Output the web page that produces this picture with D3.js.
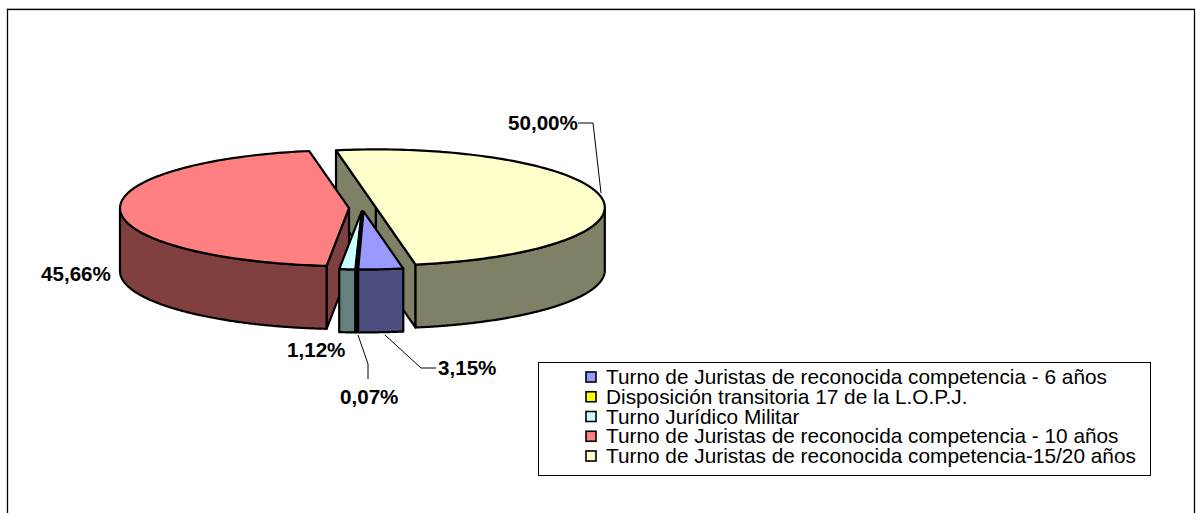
<!DOCTYPE html>
<html><head><meta charset="utf-8"><script src="https://cdn.jsdelivr.net/npm/d3@7"></script>
<style>html,body{margin:0;padding:0;background:#fff}svg{display:block}text{font-family:"Liberation Sans",Arial,sans-serif;fill:#000}</style>
</head><body><svg id="c" width="1196" height="513"></svg>
<script>
const categories = ["Turno de Juristas de reconocida competencia - 6 años","Disposición transitoria 17 de la L.O.P.J.","Turno Jurídico Militar","Turno de Juristas de reconocida competencia - 10 años","Turno de Juristas de reconocida competencia-15/20 años"];
const values = [3.15,0.07,1.12,45.66,50.00];
const valueLabels = ["3,15%","0,07%","1,12%","45,66%","50,00%"];
const topColors = ["#9999ff","#ffff00","#ccffff","#ff8080","#ffffcc"];
const sideColors = ["#4d4d80","#808000","#668080","#804040","#808066"];

const svg = d3.select("#c");
const rx=229, ry=58, depth=63, cx=362.5, cy=208, explode=13.5;
const start=170*Math.PI/180;
const arcs=d3.pie().sort(null).value(d=>d).startAngle(start).endAngle(start+2*Math.PI)(values);
const pt=(a,o)=>[o[0]+rx*Math.sin(a),o[1]-ry*Math.cos(a)];
const line=d3.line();
const slices=arcs.map((s,i)=>{const m=(s.startAngle+s.endAngle)/2;
  return {i,a0:s.startAngle,a1:s.endAngle,o:[cx+explode*Math.sin(m),cy-explode*(ry/rx)*Math.cos(m)]};});
const rim=s=>{const n=Math.max(2,Math.ceil((s.a1-s.a0)/0.02));return d3.range(n+1).map(k=>pt(s.a0+(s.a1-s.a0)*k/n,s.o));};
const down=p=>[p[0],p[1]+depth];
svg.append("line").attr("x1",6).attr("x2",1195).attr("y1",8.5).attr("y2",8.5).attr("stroke","#c8c8c8");
svg.append("rect").attr("x",7.5).attr("y",9.5).attr("width",1187).attr("height",520).attr("fill","#fff").attr("stroke","#000").attr("stroke-width",1.3);

function drawSlice(s){
  const g=svg.append("g").attr("stroke","#000").attr("stroke-width",2.2).attr("stroke-linejoin","round");
  const R=rim(s), top=[s.o,...R];
  const side=sideColors[s.i];
  const first=R[0], last=R[R.length-1];
  const cut=p=>g.append("path").attr("fill",side).attr("d",line([s.o,p,down(p),down(s.o)])+"Z");
  if(s.i===4){cut(last);cut(first);}
  if(s.i===3){cut(first);}
  const front=[];
  const n=400;
  d3.range(n+1).forEach(k=>{const a=s.a0+(s.a1-s.a0)*k/n; if(Math.cos(a)<=0) front.push(pt(a,s.o));});
  if(front.length>1){g.append("path").attr("fill",side).attr("d",line([...front,...front.slice().reverse().map(down)])+"Z");}
  g.append("path").attr("fill",topColors[s.i]).attr("d",line(top)+"Z");
}
[4,3,2,1,0].forEach(i=>drawSlice(slices[i]));

// leader lines
const leaderData=[[[578,123],[593,123],[601,193]],[[385,335],[421,368],[436,368]],[[358,335],[368,364],[368,379]]];
svg.append("g").attr("fill","none").attr("stroke","#000").attr("stroke-width",1)
  .selectAll("path").data(leaderData).join("path").attr("d",d=>line(d));

// data labels
const labelAt=[[438,375],[340,404],[287,357],[41,281],[508,130]];
svg.append("g").selectAll("text").data(valueLabels).join("text")
  .attr("x",(d,i)=>labelAt[i][0]).attr("y",(d,i)=>labelAt[i][1])
  .attr("font-size",20.6).attr("font-weight","bold").text(d=>d);

// legend
const leg=svg.append("g");
leg.append("rect").attr("x",538.5).attr("y",362.5).attr("width",612).attr("height",113).attr("fill","#fff").attr("stroke","#000");
const legendY=d3.scalePoint().domain(d3.range(categories.length)).range([377,456]);
categories.forEach((c,i)=>{
  const y=legendY(i);
  leg.append("rect").attr("x",586).attr("y",y-5).attr("width",10).attr("height",10).attr("fill",topColors[i]).attr("stroke","#000").attr("stroke-width",1.6);
  leg.append("text").attr("x",606).attr("y",y+7).attr("font-size",20.8).text(c);
});
</script></body></html>
